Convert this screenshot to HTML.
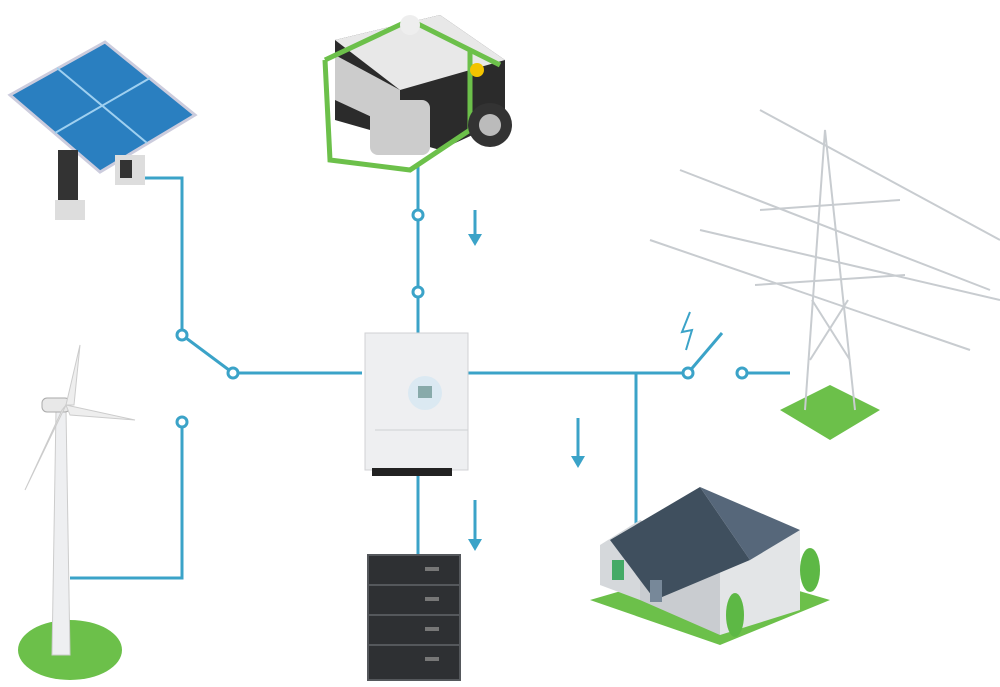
<!DOCTYPE html>
<html><head><meta charset="utf-8"><style>html,body{margin:0;padding:0;background:#fff}svg{display:block}</style></head>
<body>
<svg width="1000" height="687" viewBox="0 0 1000 687" xmlns="http://www.w3.org/2000/svg">
<defs>
<marker id="ah" markerUnits="userSpaceOnUse" markerWidth="14" markerHeight="14" refX="4" refY="7" orient="auto"><path d="M0,0 L12,7 L0,14 z" fill="#3ba3c8"/></marker>
</defs>
<g stroke="#3ba3c8" stroke-width="3" fill="none">
<polyline points="140,178 182,178 182,335"/>
<line x1="182" y1="335" x2="233" y2="373"/>
<line x1="233" y1="373" x2="362" y2="373"/>
<polyline points="70,578 182,578 182,422"/>
<line x1="418" y1="165" x2="418" y2="333"/>
<line x1="468" y1="373" x2="688" y2="373"/>
<line x1="688" y1="373" x2="722" y2="333"/>
<line x1="742" y1="373" x2="790" y2="373"/>
<line x1="636" y1="373" x2="636" y2="525"/>
<line x1="418" y1="470" x2="418" y2="555"/>
<line x1="475" y1="210" x2="475" y2="238" marker-end="url(#ah)"/>
<line x1="578" y1="418" x2="578" y2="460" marker-end="url(#ah)"/>
<line x1="475" y1="500" x2="475" y2="543" marker-end="url(#ah)"/>
<path d="M690,312 L682,332 L692,330 L686,350" stroke-width="2"/>
</g>
<g fill="#fff" stroke="#3ba3c8" stroke-width="3">
<circle cx="182" cy="335" r="5"/><circle cx="233" cy="373" r="5"/><circle cx="182" cy="422" r="5"/>
<circle cx="418" cy="215" r="5"/><circle cx="418" cy="292" r="5"/>
<circle cx="688" cy="373" r="5"/><circle cx="742" cy="373" r="5"/>
</g>
<!-- solar -->
<g>
<polygon points="10,95 105,42 195,115 100,172" fill="#2a7fc0" stroke="#ccd" stroke-width="3"/>
<line x1="57" y1="68" x2="147" y2="143" stroke="#9fd0f0" stroke-width="2"/>
<line x1="55" y1="133" x2="150" y2="78" stroke="#9fd0f0" stroke-width="2"/>
<rect x="58" y="150" width="20" height="60" fill="#333"/>
<rect x="55" y="200" width="30" height="20" fill="#ddd"/>
<rect x="115" y="155" width="30" height="30" fill="#ddd"/>
<rect x="120" y="160" width="12" height="18" fill="#333"/>
</g>
<!-- generator -->
<g>
<polygon points="335,40 440,15 505,60 505,120 440,150 335,120" fill="#2b2b2b"/>
<polygon points="335,40 440,15 505,60 400,90" fill="#e8e8e8"/>
<polygon points="335,55 400,90 400,130 335,100" fill="#ccc"/>
<rect x="370" y="100" width="60" height="55" rx="8" fill="#ccc"/>
<polyline points="325,60 330,160 410,170 470,130 470,50" fill="none" stroke="#6cc04a" stroke-width="5"/>
<polyline points="325,60 410,20 500,65" fill="none" stroke="#6cc04a" stroke-width="5"/>
<circle cx="490" cy="125" r="22" fill="#333"/><circle cx="490" cy="125" r="11" fill="#bbb"/>
<circle cx="477" cy="70" r="7" fill="#f3c400"/>
<circle cx="410" cy="25" r="10" fill="#eee"/>
</g>
<!-- inverter -->
<rect x="365" y="333" width="103" height="137" fill="#eeeff1" stroke="#d0d2d4"/>
<line x1="375" y1="430" x2="468" y2="430" stroke="#cfd1d3"/>
<circle cx="425" cy="393" r="17" fill="#dbe9f2"/><rect x="418" y="386" width="14" height="12" fill="#8aa"/>
<rect x="372" y="468" width="80" height="8" fill="#222"/>
<!-- battery -->
<g fill="#2e3033" stroke="#55585c" stroke-width="2">
<rect x="368" y="555" width="92" height="30"/><rect x="368" y="585" width="92" height="30"/>
<rect x="368" y="615" width="92" height="30"/><rect x="368" y="645" width="92" height="35"/>
</g>
<g fill="#777"><rect x="425" y="567" width="14" height="4"/><rect x="425" y="597" width="14" height="4"/><rect x="425" y="627" width="14" height="4"/><rect x="425" y="657" width="14" height="4"/></g>
<!-- wind -->
<g>
<ellipse cx="70" cy="650" rx="52" ry="30" fill="#6cc04a"/>
<polygon points="56,410 66,410 70,655 52,655" fill="#eeeff1" stroke="#ccc"/>
<rect x="42" y="398" width="28" height="14" rx="5" fill="#e8e8e8" stroke="#aaa"/>
<polygon points="66,405 80,345 74,405" fill="#eee" stroke="#ccc"/>
<polygon points="66,405 135,420 70,415" fill="#eee" stroke="#ccc"/>
<polygon points="66,405 25,490 62,410" fill="#eee" stroke="#ccc"/>
</g>
<!-- house -->
<g>
<polygon points="590,600 720,645 830,600 710,565" fill="#6cc04a"/>
<polygon points="600,545 640,520 640,600 600,585" fill="#d5d8db"/>
<polygon points="640,520 720,560 720,635 640,600" fill="#c9ccd0"/>
<polygon points="720,560 800,530 800,610 720,635" fill="#e3e5e7"/>
<polygon points="610,540 700,487 750,560 655,600" fill="#3f4f5e"/>
<polygon points="700,487 800,530 750,560" fill="#56677a"/>
<rect x="612" y="560" width="12" height="20" fill="#4a6"/><rect x="650" y="580" width="12" height="22" fill="#789"/>
<ellipse cx="810" cy="570" rx="10" ry="22" fill="#5db845"/>
<ellipse cx="735" cy="615" rx="9" ry="22" fill="#5db845"/>
</g>
<!-- tower -->
<g>
<polygon points="780,410 830,385 880,410 830,440" fill="#6cc04a"/>
<g stroke="#c8ccd0" stroke-width="2" fill="none">
<polyline points="805,410 825,130 855,410"/>
<line x1="760" y1="210" x2="900" y2="200"/><line x1="755" y1="285" x2="905" y2="275"/>
<line x1="812" y1="300" x2="850" y2="360"/><line x1="848" y1="300" x2="810" y2="360"/>
<line x1="680" y1="170" x2="990" y2="290"/><line x1="650" y1="240" x2="970" y2="350"/>
<line x1="760" y1="110" x2="1000" y2="240"/><line x1="700" y1="230" x2="1000" y2="300"/>
</g>
</g>
</svg>
</body></html>
